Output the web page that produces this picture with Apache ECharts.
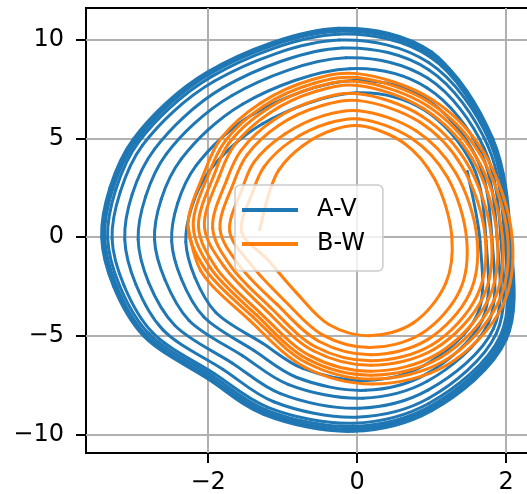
<!DOCTYPE html>
<html>
<head>
<meta charset="utf-8">
<script src="https://cdn.jsdelivr.net/npm/echarts@6/dist/echarts.min.js"></script>
<style>
  html, body { margin: 0; padding: 0; background: #fff; }
  #chart { width: 527px; height: 494px; }
</style>
</head>
<body>
<div id="chart"></div>
<script>
// Phase trajectories of the two oscillators, spiralling out onto their limit cycles.
// One row per revolution.
const avX = [
  1.48,1.65,1.61,0.89,0.13,-0.73,-1.27,-1.90,-2.18,-2.30,-2.22,-1.99,-1.27,-0.01,0.89,
  1.55,1.73,1.68,0.92,0.11,-0.81,-1.39,-2.06,-2.36,-2.49,-2.41,-2.16,-1.39,-0.05,0.92,
  1.61,1.81,1.76,0.94,0.07,-0.92,-1.54,-2.26,-2.58,-2.72,-2.63,-2.36,-1.54,-0.10,0.94,
  1.67,1.88,1.83,0.95,0.03,-1.03,-1.68,-2.45,-2.80,-2.94,-2.84,-2.56,-1.68,-0.15,0.95,
  1.71,1.93,1.87,0.96,-0.01,-1.12,-1.80,-2.61,-2.97,-3.12,-3.02,-2.72,-1.80,-0.20,0.96,
  1.75,1.98,1.92,0.96,-0.05,-1.20,-1.92,-2.75,-3.13,-3.29,-3.18,-2.88,-1.92,-0.24,0.96,
  1.78,2.01,1.95,0.98,-0.05,-1.22,-1.95,-2.80,-3.19,-3.35,-3.24,-2.93,-1.95,-0.25,0.98,
  1.79,2.03,1.97,0.98,-0.05,-1.24,-1.98,-2.84,-3.23,-3.39,-3.28,-2.96,-1.98,-0.25,0.98,
  1.81,2.05,1.99,0.99,-0.05,-1.25,-2.00,-2.86,-3.26,-3.42,-3.31,-2.99,-2.00,-0.25,0.99,
  1.82,2.06,2.00,1.00,-0.05,-1.25,-2.00,-2.87,-3.27,-3.43,-3.32,-3.00,-2.00,-0.25,1.00,1.82
];
const avY = [
  3.33,-0.24,-3.95,-6.52,-7.27,-6.66,-5.38,-3.81,-2.02,-0.24,1.55,3.33,5.76,7.33,6.48,
  3.64,-0.20,-4.19,-6.96,-7.77,-7.12,-5.74,-4.04,-2.12,-0.20,1.72,3.64,6.26,7.95,7.03,
  3.97,-0.12,-4.37,-7.31,-8.17,-7.48,-6.01,-4.21,-2.16,-0.12,1.93,3.97,6.75,8.55,7.57,
  4.23,-0.12,-4.64,-7.76,-8.68,-7.94,-6.38,-4.47,-2.29,-0.12,2.06,4.23,7.19,9.10,8.06,
  4.47,-0.11,-4.87,-8.17,-9.13,-8.35,-6.71,-4.69,-2.40,-0.11,2.18,4.47,7.59,9.60,8.50,
  4.67,-0.08,-5.02,-8.44,-9.44,-8.63,-6.92,-4.83,-2.45,-0.08,2.30,4.67,7.91,10.00,8.86,
  4.85,-0.02,-5.07,-8.58,-9.60,-8.77,-7.02,-4.88,-2.45,-0.02,2.42,4.85,8.16,10.30,9.14,
  4.92,-0.01,-5.13,-8.68,-9.72,-8.88,-7.11,-4.94,-2.47,-0.01,2.46,4.92,8.28,10.45,9.27,
  4.97,0.00,-5.17,-8.75,-9.80,-8.96,-7.16,-4.98,-2.48,0.00,2.49,4.97,8.36,10.55,9.36,
  5.00,0.00,-5.20,-8.80,-9.85,-9.00,-7.20,-5.00,-2.50,0.00,2.50,5.00,8.40,10.60,9.40,5.00
];
const bwX = [
  -1.31,-1.18,-1.05,-0.73,-0.32,0.04,0.63,1.04,1.27,1.19,0.75,0.16,-0.38,-0.82,-1.21,
  -1.55,-1.40,-1.25,-0.88,-0.39,0.03,0.72,1.21,1.47,1.38,0.86,0.17,-0.46,-0.98,-1.43,
  -1.71,-1.54,-1.38,-0.97,-0.44,0.02,0.79,1.32,1.61,1.51,0.94,0.18,-0.51,-1.08,-1.58,
  -1.84,-1.66,-1.48,-1.05,-0.47,0.02,0.84,1.41,1.72,1.61,1.00,0.18,-0.56,-1.17,-1.70,
  -1.94,-1.75,-1.56,-1.11,-0.50,0.01,0.87,1.47,1.80,1.69,1.04,0.18,-0.59,-1.24,-1.79,
  -2.05,-1.85,-1.65,-1.17,-0.54,0.00,0.90,1.54,1.88,1.76,1.08,0.18,-0.63,-1.31,-1.90,
  -2.13,-1.92,-1.72,-1.22,-0.56,0.00,0.94,1.59,1.95,1.83,1.12,0.19,-0.66,-1.36,-1.97,
  -2.20,-1.99,-1.77,-1.26,-0.58,0.00,0.97,1.65,2.02,1.89,1.17,0.20,-0.68,-1.40,-2.04,
  -2.27,-2.05,-1.83,-1.30,-0.60,0.00,1.00,1.70,2.08,1.95,1.20,0.20,-0.70,-1.45,-2.10,-2.27
];
const bwY = [
  0.38,2.27,3.42,4.64,5.45,5.65,4.77,2.95,0.04,-2.33,-4.36,-5.00,-4.43,-2.80,-1.11,
  0.26,2.32,3.57,4.90,5.78,6.00,5.04,3.05,-0.11,-2.69,-4.90,-5.60,-4.97,-3.20,-1.37,
  0.29,2.49,3.83,5.24,6.18,6.42,5.40,3.28,-0.10,-2.85,-5.21,-5.96,-5.29,-3.40,-1.44,
  0.40,2.74,4.16,5.68,6.68,6.93,5.84,3.58,-0.03,-2.96,-5.47,-6.27,-5.56,-3.54,-1.45,
  0.46,2.91,4.39,5.97,7.02,7.28,6.14,3.78,0.02,-3.04,-5.67,-6.50,-5.76,-3.65,-1.47,
  0.52,3.10,4.66,6.32,7.42,7.70,6.50,4.02,0.06,-3.16,-5.92,-6.80,-6.02,-3.81,-1.51,
  0.52,3.17,4.78,6.48,7.62,7.90,6.67,4.12,0.05,-3.26,-6.10,-7.00,-6.20,-3.92,-1.56,
  0.53,3.24,4.89,6.65,7.81,8.10,6.84,4.21,0.04,-3.36,-6.27,-7.20,-6.37,-4.04,-1.62,
  0.50,3.30,5.00,6.80,8.00,8.30,7.00,4.30,0.00,-3.50,-6.50,-7.45,-6.60,-4.20,-1.70,0.50
];
const seriesNames = ['A-V', 'B-W'];
const seriesColors = ['#1f77b4', '#ff7f0e'];
const xTicks = [-2, 0, 2];
const yTicks = [-10, -5, 0, 5, 10];
const xRange = [-3.64, 2.32];
const yRange = [-10.95, 11.63];

const pairs = (xs, ys) => xs.map((x, i) => [x, ys[i]]);
const minus = v => String(v).replace('-', '\u2212');
const FONT = 'DejaVu Sans';

// Smooth curve through the projected samples: centripetal Catmull-Rom
// segments, each emitted as a cubic bezier element.
function trajectoryRenderer(points, color) {
  return function (params, api) {
    if (params.dataIndex !== 0) return null;
    const px = points.map(p => api.coord(p));
    const n = px.length;
    const dist = (a, b) => Math.hypot(a[0] - b[0], a[1] - b[1]);
    const children = [];
    for (let i = 0; i < n - 1; i++) {
      const p0 = px[Math.max(i - 1, 0)], p1 = px[i], p2 = px[i + 1], p3 = px[Math.min(i + 2, n - 1)];
      let d1 = Math.sqrt(dist(p0, p1)), d2 = Math.sqrt(dist(p1, p2)), d3 = Math.sqrt(dist(p2, p3));
      if (d1 < 1e-6) d1 = d2;
      if (d3 < 1e-6) d3 = d2;
      const a1 = d1 * d1, a2 = d2 * d2, a3 = d3 * d3;
      const c1 = [0, 1].map(k => (a1 * p2[k] - a2 * p0[k] + (2 * a1 + 3 * d1 * d2 + a2) * p1[k]) / (3 * d1 * (d1 + d2)));
      const c2 = [0, 1].map(k => (a3 * p1[k] - a2 * p3[k] + (2 * a3 + 3 * d3 * d2 + a2) * p2[k]) / (3 * d3 * (d3 + d2)));
      children.push({
        type: 'bezierCurve',
        shape: { x1: p1[0], y1: p1[1], cpx1: c1[0], cpy1: c1[1], cpx2: c2[0], cpy2: c2[1], x2: p2[0], y2: p2[1] },
        style: { stroke: color, lineWidth: 3, fill: null, lineCap: 'round', lineJoin: 'round' },
        silent: true
      });
    }
    return { type: 'group', children };
  };
}

const chart = echarts.init(document.getElementById('chart'), null, { renderer: 'canvas' });

const axisCommon = (ticks, margin) => ({
  type: 'value',
  axisLine: { show: false, onZero: false },
  axisTick: {
    show: true, length: 10, inside: false, customValues: ticks,
    lineStyle: { color: '#000', width: 2 }
  },
  axisLabel: {
    show: true, customValues: ticks, formatter: minus, margin,
    color: '#000', fontFamily: FONT, fontSize: 24
  },
  splitLine: { show: true, lineStyle: { color: '#b0b0b0', width: 2 } }
});

const avPoints = pairs(avX, avY);
const bwPoints = pairs(bwX, bwY);

chart.setOption({
  animation: false,
  backgroundColor: '#fff',
  grid: {
    left: 86, top: 8, width: 444, height: 445,
    show: true, borderColor: '#000', borderWidth: 2,
    containLabel: false, outerBoundsMode: 'none'
  },
  xAxis: Object.assign(axisCommon(xTicks, 18), { min: xRange[0], max: xRange[1] }),
  yAxis: Object.assign(axisCommon(yTicks, 22), { min: yRange[0], max: yRange[1] }),
  legend: {
    orient: 'vertical',
    left: 235, top: 185,
    padding: [13, 18, 15, 7],
    itemGap: 10,
    itemWidth: 56, itemHeight: 4,
    icon: 'rect',
    backgroundColor: 'rgba(255,255,255,0.8)',
    borderColor: '#cccccc', borderWidth: 1.5, borderRadius: 5,
    textStyle: { color: '#000', fontFamily: FONT, fontSize: 24, padding: [0, 0, 0, 14] },
    data: seriesNames
  },
  series: [
    {
      name: seriesNames[0], type: 'custom', coordinateSystem: 'cartesian2d',
      data: avPoints, encode: { x: 0, y: 1 }, clip: true,
      itemStyle: { color: seriesColors[0] },
      renderItem: trajectoryRenderer(avPoints, seriesColors[0])
    },
    {
      name: seriesNames[1], type: 'custom', coordinateSystem: 'cartesian2d',
      data: bwPoints, encode: { x: 0, y: 1 }, clip: true,
      itemStyle: { color: seriesColors[1] },
      renderItem: trajectoryRenderer(bwPoints, seriesColors[1])
    }
  ]
});
</script>
</body>
</html>
